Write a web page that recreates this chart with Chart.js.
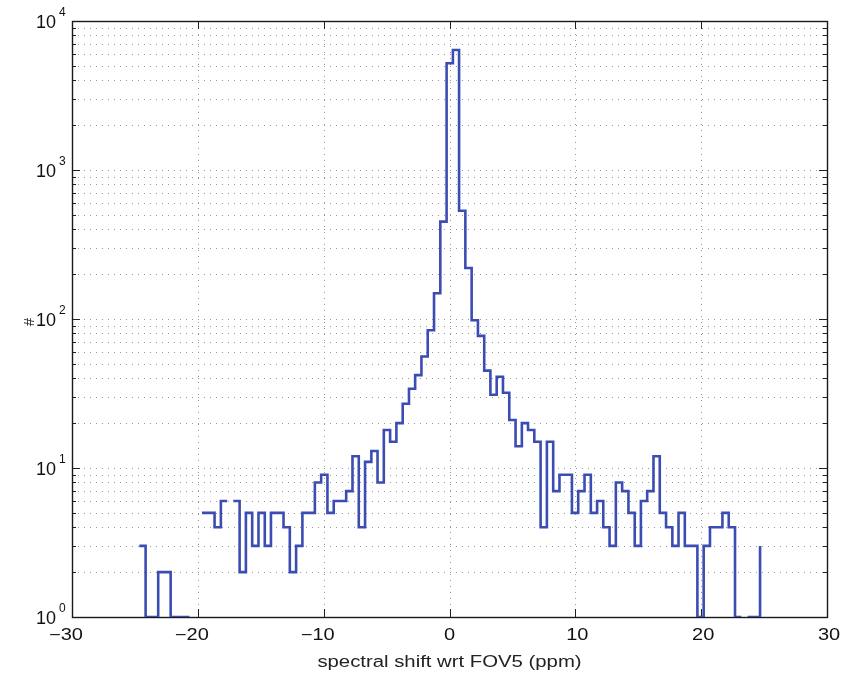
<!DOCTYPE html>
<html>
<head>
<meta charset="utf-8">
<script src="https://cdn.jsdelivr.net/npm/chart.js@4/dist/chart.umd.min.js"></script>
<style>
  html, body { margin: 0; padding: 0; background: #ffffff; }
  #wrap { width: 844px; height: 673px; position: relative; }
</style>
</head>
<body>
<div id="wrap"><canvas id="c" width="844" height="673"></canvas></div>
<script>
// ---- data (histogram, 100 bins, drawn as stairs) ----
const binCenters = [
  -24.65, -24.15, -23.65, -23.15, -22.66, -22.16, -21.66, -21.16, -20.66, -20.17,
  -19.67, -19.17, -18.67, -18.17, -17.67, -17.18, -16.68, -16.18, -15.68, -15.18,
  -14.68, -14.19, -13.69, -13.19, -12.69, -12.19, -11.69, -11.20, -10.70, -10.20,
   -9.70,  -9.20,  -8.71,  -8.21,  -7.71,  -7.21,  -6.71,  -6.21,  -5.72,  -5.22,
   -4.72,  -4.22,  -3.72,  -3.22,  -2.73,  -2.23,  -1.73,  -1.23,  -0.73,  -0.23,
    0.27,   0.76,   1.26,   1.76,   2.26,   2.76,   3.25,   3.75,   4.25,   4.75,
    5.25,   5.75,   6.24,   6.74,   7.24,   7.74,   8.24,   8.74,   9.23,   9.73,
   10.23,  10.73,  11.23,  11.73,  12.22,  12.72,  13.22,  13.72,  14.22,  14.72,
   15.21,  15.71,  16.21,  16.71,  17.21,  17.71,  18.20,  18.70,  19.20,  19.70,
   20.20,  20.70,  21.19,  21.69,  22.19,  22.69,  23.19,  23.69,  24.18,  24.68
];
const counts = [
  3, 1, 1, 2, 2, 1, 1, 1, 0, 0,
  5, 5, 4, 6, 0, 6, 2, 5, 3, 5,
  3, 5, 5, 4, 2, 3, 5, 5, 8, 9,
  5, 6, 6, 7, 12, 4, 11, 13, 8, 18,
  15, 20, 27, 34, 42, 56, 84, 149, 450, 5200,
  6390, 533, 220, 98, 77, 45, 31, 41, 32, 21,
  14, 20, 18, 15, 4, 15, 7, 9, 9, 5,
  7, 9, 5, 6, 4, 3, 8, 7, 5, 3,
  6, 7, 12, 5, 4, 3, 5, 3, 3, 1,
  3, 4, 4, 5, 4, 1, 0, 1, 1, 3
];
const xTickValues = [-30, -20, -10, 0, 10, 20, 30];
const xTickLabels = ['\u221230', '\u221220', '\u221210', '0', '10', '20', '30'];
const yMajorTicks = [1, 10, 100, 1000, 10000];
const yExponents = ['0', '1', '2', '3', '4'];
const xAxisTitle = 'spectral shift wrt FOV5 (ppm)';
const yAxisTitle = '#';

// minor log positions 2..9 within each decade (axis decoration)
const yMinorTicks = [];
for (let d = 0; d < yMajorTicks.length - 1; d++) {
  for (let m = 2; m <= 9; m++) yMinorTicks.push(m * yMajorTicks[d]);
}

// build stairs (MATLAB stairs: horizontal from centre i to centre i+1; zero counts leave gaps on the log axis)
const stairs = [];
for (let i = 0; i < counts.length; i++) {
  const n = counts[i];
  if (i === counts.length - 1) {
    if (n > 0) stairs.push({ x: binCenters[i], y: n });
    break;
  }
  if (n > 0) {
    stairs.push({ x: binCenters[i], y: n });
    stairs.push({ x: binCenters[i + 1], y: n });
    if (counts[i + 1] === 0) stairs.push({ x: binCenters[i + 1], y: null });
  }
}

const FONT = "'Liberation Sans', Arial, Helvetica, sans-serif";

function stretchedText(ctx, text, cx, baseline, sx, font, align) {
  ctx.save();
  ctx.font = font;
  ctx.textAlign = align || 'center';
  ctx.textBaseline = 'alphabetic';
  ctx.translate(cx, baseline);
  ctx.scale(sx, 1);
  ctx.fillText(text, 0, 0);
  ctx.restore();
}

const matlabAxes = {
  id: 'matlabAxes',
  beforeDatasetsDraw(chart) {
    const { ctx, chartArea: a, scales: { x, y } } = chart;
    const L = Math.round(a.left), R = Math.round(a.right), T = Math.round(a.top), B = Math.round(a.bottom);
    ctx.save();
    // dotted grid
    ctx.strokeStyle = '#999999';
    ctx.lineWidth = 1;
    ctx.setLineDash([1, 5]);
    xTickValues.forEach(v => {
      const px = Math.round(x.getPixelForValue(v)) + 0.5;
      if (px <= L + 1 || px >= R - 1) return;
      ctx.beginPath(); ctx.moveTo(px, B); ctx.lineTo(px, T); ctx.stroke();
    });
    yMajorTicks.concat(yMinorTicks).forEach(v => {
      const py = Math.round(y.getPixelForValue(v)) + 0.5;
      if (py <= T + 1 || py >= B - 1) return;
      ctx.beginPath(); ctx.moveTo(L, py); ctx.lineTo(R, py); ctx.stroke();
    });
    ctx.setLineDash([]);
    // ticks (inward, all four sides)
    ctx.strokeStyle = '#222';
    ctx.lineWidth = 1;
    const major = 8, minor = 4;
    xTickValues.forEach(v => {
      const px = Math.round(x.getPixelForValue(v)) + 0.5;
      ctx.beginPath();
      ctx.moveTo(px, B); ctx.lineTo(px, B - major);
      ctx.moveTo(px, T); ctx.lineTo(px, T + major);
      ctx.stroke();
    });
    yMajorTicks.forEach(v => {
      const py = Math.round(y.getPixelForValue(v)) + 0.5;
      ctx.beginPath();
      ctx.moveTo(L, py); ctx.lineTo(L + major, py);
      ctx.moveTo(R, py); ctx.lineTo(R - major, py);
      ctx.stroke();
    });
    yMinorTicks.forEach(v => {
      const py = Math.round(y.getPixelForValue(v)) + 0.5;
      ctx.beginPath();
      ctx.moveTo(L, py); ctx.lineTo(L + minor, py);
      ctx.moveTo(R, py); ctx.lineTo(R - minor, py);
      ctx.stroke();
    });
    // box
    ctx.strokeStyle = '#1a1a1a';
    ctx.lineWidth = 1.4;
    ctx.strokeRect(L + 0.5, T + 0.5, R - L, B - T);
    ctx.restore();
  },
  afterDraw(chart) {
    const { ctx, chartArea: a, scales: { x, y } } = chart;
    ctx.save();
    ctx.fillStyle = '#111';
    // y tick labels 10^n
    yMajorTicks.forEach((v, i) => {
      const py = y.getPixelForValue(v);
      ctx.font = '18px ' + FONT;
      ctx.textAlign = 'right';
      ctx.textBaseline = 'alphabetic';
      ctx.fillText('10', a.left - 16, py + 7);
      ctx.font = '12px ' + FONT;
      ctx.textAlign = 'left';
      ctx.fillText(yExponents[i], a.left - 13, py - 5);
    });
    // x tick labels
    xTickValues.forEach((v, i) => {
      const px = x.getPixelForValue(v) + (v < 0 ? -6 : (v > 0 ? 2 : 0));
      stretchedText(ctx, xTickLabels[i], px, a.bottom + 23, 1.25, '16px ' + FONT, 'center');
    });
    // x axis title
    ctx.fillStyle = '#222';
    stretchedText(ctx, xAxisTitle, (a.left + a.right) / 2, 667, 1.27, '16px ' + FONT, 'center');
    // y axis title
    ctx.save();
    ctx.translate(34, 322);
    ctx.rotate(-Math.PI / 2);
    ctx.font = '15px ' + FONT;
    ctx.textAlign = 'center';
    ctx.textBaseline = 'alphabetic';
    ctx.fillText(yAxisTitle, 0, 0);
    ctx.restore();
    ctx.restore();
  }
};

new Chart(document.getElementById('c').getContext('2d'), {
  type: 'line',
  data: {
    datasets: [{
      data: stairs,
      borderColor: '#3b4db3',
      borderWidth: 2.6,
      pointRadius: 0,
      pointHoverRadius: 0,
      fill: false,
      tension: 0,
      spanGaps: false,
      borderJoinStyle: 'miter',
      borderCapStyle: 'butt'
    }]
  },
  options: {
    responsive: false,
    animation: false,
    devicePixelRatio: 1,
    layout: { padding: { top: 21, right: 17, left: 0, bottom: 0 } },
    plugins: { legend: { display: false }, tooltip: { enabled: false } },
    scales: {
      x: {
        type: 'linear',
        min: -30, max: 30,
        afterBuildTicks: s => { s.ticks = xTickValues.map(v => ({ value: v })); },
        afterFit: s => { s.height = 56; },
        grid: { display: false, drawTicks: false },
        border: { display: false },
        ticks: { display: false },
        title: { display: false, text: xAxisTitle }
      },
      y: {
        type: 'logarithmic',
        min: 1, max: 10000,
        afterBuildTicks: s => { s.ticks = yMajorTicks.map(v => ({ value: v })); },
        afterFit: s => { s.width = 72; },
        grid: { display: false, drawTicks: false },
        border: { display: false },
        ticks: { display: false },
        title: { display: false, text: yAxisTitle }
      }
    }
  },
  plugins: [matlabAxes]
});
</script>
</body>
</html>
